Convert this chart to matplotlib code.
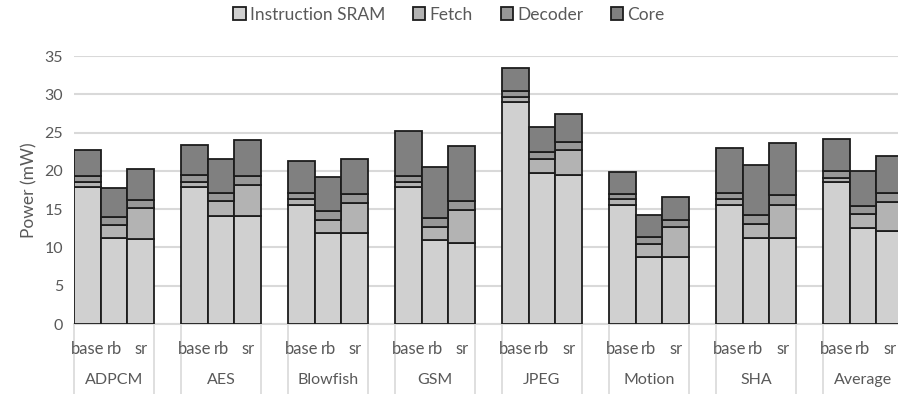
#!/usr/bin/env python3
"""Stacked power breakdown (SRAM / fetch / decoder / core) per benchmark and config."""

import matplotlib
matplotlib.use("Agg")
import matplotlib.pyplot as plt
import matplotlib.transforms as mtransforms
import numpy as np


BENCHMARKS = ["ADPCM", "AES", "Blowfish", "GSM", "JPEG", "Motion", "SHA", "Average"]
CONFIGS = ["base", "rb", "sr"]
COMPONENTS = ["Instruction SRAM", "Fetch", "Decoder", "Core"]

# power in mW, one row per benchmark, columns are base / rb / sr
SRAM_MW = [
    [17.83, 11.22, 11.09],
    [17.83, 14.13, 14.13],
    [15.60, 11.83, 11.90],
    [17.83, 10.95, 10.60],
    [28.96, 19.78, 19.43],
    [15.57, 8.78, 8.70],
    [15.60, 11.17, 11.17],
    [18.48, 12.52, 12.13],
]
FETCH_MW = [
    [0.74, 1.69, 4.00],
    [0.74, 1.87, 4.00],
    [0.75, 1.77, 3.93],
    [0.74, 1.75, 4.27],
    [0.69, 1.74, 3.35],
    [0.69, 1.65, 3.91],
    [0.70, 1.87, 4.35],
    [0.65, 1.83, 3.83],
]
DECODER_MW = [
    [0.78, 1.00, 1.13],
    [0.86, 1.17, 1.26],
    [0.78, 1.10, 1.13],
    [0.82, 1.10, 1.13],
    [0.78, 1.00, 1.00],
    [0.70, 0.96, 0.91],
    [0.87, 1.22, 1.31],
    [0.87, 1.08, 1.17],
]
CORE_MW = [
    [3.35, 3.79, 3.98],
    [4.00, 4.40, 4.70],
    [4.17, 4.50, 4.64],
    [5.78, 6.76, 7.26],
    [3.01, 3.22, 3.61],
    [2.91, 2.87, 3.13],
    [5.83, 6.44, 6.82],
    [4.13, 4.53, 4.83],
]

COLORS = ["#d0d0d0", "#b3b3b3", "#979797", "#808080"]
TEXT = "#595959"
GRID = "#d9d9d9"


def main():
    plt.rcParams["font.family"] = ["Lato", "DejaVu Sans"]

    fig = plt.figure(figsize=(8.98, 3.94), dpi=100)
    # 31 category slots: three bars per benchmark plus one empty slot between groups
    ax = fig.add_axes([74 / 898, 70 / 394, 829 / 898, 268 / 394])

    n_cfg = len(CONFIGS)
    slot = n_cfg + 1
    xs = np.array([g * slot + c for g in range(len(BENCHMARKS)) for c in range(n_cfg)])

    stacks = [np.array(s).ravel() for s in (SRAM_MW, FETCH_MW, DECODER_MW, CORE_MW)]
    bottom = np.zeros(len(xs))
    for name, vals, color in zip(COMPONENTS, stacks, COLORS):
        ax.bar(xs, vals, width=1.0, bottom=bottom, color=color,
               edgecolor="#1c1c1c", linewidth=1.3, label=name, zorder=3)
        bottom = bottom + vals

    ax.set_xlim(-0.5, len(BENCHMARKS) * slot - 1.5)
    ax.set_ylim(0, 35)
    ax.set_yticks(np.arange(0, 36, 5))
    ax.yaxis.grid(True, color=GRID, linewidth=1.5, zorder=0)
    ax.tick_params(axis="y", length=0, labelsize=11.5, colors=TEXT, pad=8)
    ax.set_ylabel("Power (mW)", fontsize=12.5, color=TEXT, labelpad=5)

    for side in ("left", "right", "top"):
        ax.spines[side].set_visible(False)
    ax.spines["bottom"].set_color(GRID)
    ax.spines["bottom"].set_linewidth(1.5)

    # two-level category axis drawn by hand
    ax.set_xticks([])
    trans = mtransforms.blended_transform_factory(ax.transData, ax.transAxes)
    for g, bench in enumerate(BENCHMARKS):
        start = g * slot
        for c, cfg in enumerate(CONFIGS):
            ax.text(start + c, -0.095, cfg, transform=trans, ha="center", va="center",
                    fontsize=12, color=TEXT, clip_on=False)
        ax.text(start + (n_cfg - 1) / 2, -0.21, bench, transform=trans, ha="center",
                va="center", fontsize=11.5, color=TEXT, clip_on=False)
        for edge in (start - 0.5, start + n_cfg - 0.5):
            ax.plot([edge, edge], [0, -0.27], transform=trans, color=GRID,
                    linewidth=1.2, clip_on=False, zorder=1)

    handles, labels = ax.get_legend_handles_labels()
    fig.legend(handles, labels, loc="center", bbox_to_anchor=(0.5, 0.963), ncol=4,
               frameon=False, fontsize=12.5, labelcolor=TEXT, handlelength=0.7,
               handleheight=0.7, handletextpad=0.25, columnspacing=1.6)

    fig.savefig("out.png", dpi=100)
    plt.close(fig)
    return 0


if __name__ == "__main__":
    raise SystemExit(main())
